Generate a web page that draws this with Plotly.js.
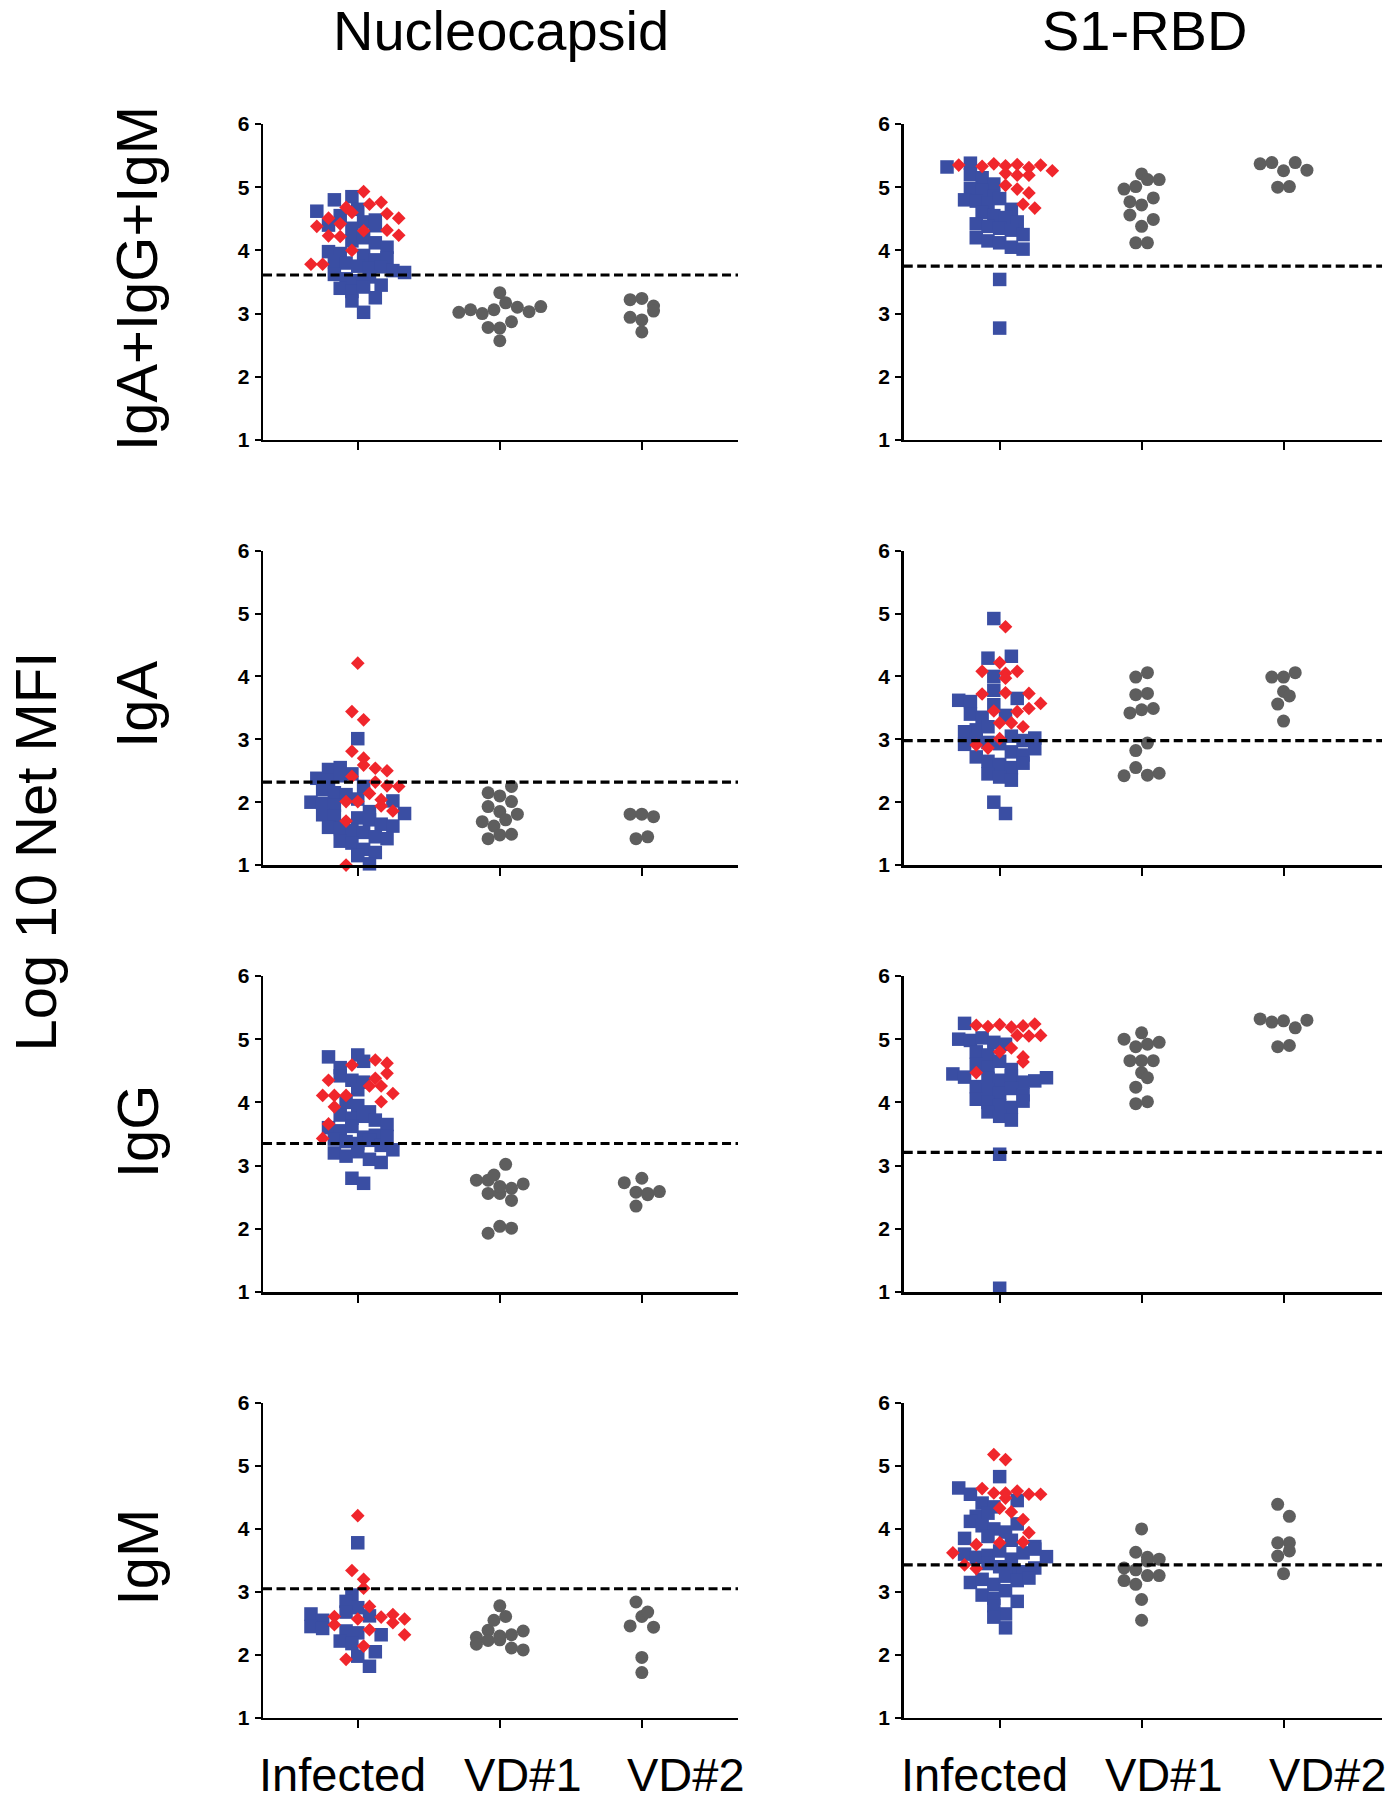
<!DOCTYPE html>
<html>
<head>
<meta charset="utf-8">
<script src="https://cdn.plot.ly/plotly-3.0.1.min.js"></script>
<style>
  html, body { margin: 0; padding: 0; background: #fff; }
  #chart { width: 1388px; height: 1800px; }
</style>
</head>
<body>
<div id="chart"></div>
<script>
// Log10 net MFI scatter dot plots: infected (blue/red) vs vaccine donors

const groups = ['Infected', 'VD#1', 'VD#2'];
const antigens = ['Nucleocapsid', 'S1-RBD'];
const isotypes = ['IgA+IgG+IgM', 'IgA', 'IgG', 'IgM'];

// Nucleocapsid, IgA+IgG+IgM
const nTotalBlue = [4.85, 4.80, 4.62, 4.55, 4.65, 4.45, 4.40, 4.35, 4.48, 4.39, 4.15, 4.20, 4.12, 4.05, 3.98, 3.95, 3.92, 3.85, 3.82, 3.80, 3.75, 3.72, 3.88, 3.74, 3.68, 3.65, 3.62, 3.55, 3.52, 3.58, 3.45, 3.40, 3.35, 3.42, 3.25, 3.20, 3.02];
const nTotalRed = [4.38, 4.68, 4.51, 4.60, 4.93, 4.73, 4.42, 4.31, 4.23, 4.22, 4.76, 4.58, 4.51, 4.32, 4.24, 4.00, 3.78, 3.78];
const nTotalVD1 = [3.02, 3.06, 3.00, 3.06, 3.17, 3.10, 3.03, 3.11, 3.33, 2.78, 2.77, 2.87, 2.57];
const nTotalVD2 = [3.22, 2.94, 3.24, 2.71, 3.12, 2.90, 3.04];
const nTotalCut = 3.61;

// S1-RBD, IgA+IgG+IgM
const sTotalBlue = [5.32, 5.38, 5.20, 5.15, 5.05, 4.98, 4.95, 4.85, 4.80, 4.78, 4.75, 4.82, 4.65, 4.60, 4.55, 4.52, 4.45, 4.42, 4.38, 4.35, 4.32, 4.25, 4.20, 4.15, 4.12, 4.05, 4.02, 3.54, 2.77];
const sTotalRed = [5.35, 5.33, 5.37, 5.34, 5.36, 5.31, 5.35, 5.26, 5.22, 5.19, 5.19, 5.03, 4.97, 4.91, 4.73, 4.67];
const sTotalVD1 = [5.21, 4.97, 4.77, 4.56, 5.01, 4.38, 4.12, 5.12, 4.72, 4.49, 4.12, 5.12, 4.83];
const sTotalVD2 = [5.37, 5.39, 5.26, 5.39, 5.27, 5.00, 5.01];
const sTotalCut = 3.75;

// Nucleocapsid, IgA
const nIgABlue = [3.01, 2.52, 2.55, 2.45, 2.38, 2.35, 2.42, 2.20, 2.15, 2.25, 2.12, 2.05, 2.00, 1.98, 1.95, 2.02, 1.85, 1.80, 1.78, 1.75, 1.82, 1.72, 1.65, 1.60, 1.58, 1.55, 1.62, 1.52, 1.45, 1.42, 1.38, 1.35, 1.25, 1.20, 1.15, 1.02];
const nIgARed = [4.21, 3.44, 3.31, 2.81, 2.70, 2.59, 2.54, 2.50, 2.41, 2.32, 2.26, 2.25, 2.14, 2.04, 2.01, 2.01, 1.94, 1.86, 1.70, 1.00];
const nIgAVD1 = [2.15, 1.93, 1.69, 1.42, 2.10, 1.85, 1.62, 2.01, 1.72, 1.48, 2.25, 1.81, 1.49];
const nIgAVD2 = [1.81, 1.81, 1.77, 1.42, 1.45];
const nIgACut = 2.32;

// S1-RBD, IgA
const sIgABlue = [4.92, 4.29, 4.32, 4.00, 3.78, 3.62, 3.60, 3.55, 3.65, 3.40, 3.35, 3.38, 3.15, 3.20, 3.12, 3.00, 2.95, 2.92, 3.05, 2.98, 2.93, 3.02, 2.80, 2.75, 2.72, 2.85, 2.65, 2.60, 2.55, 2.62, 2.45, 2.40, 2.35, 2.00, 1.82];
const sIgARed = [4.79, 4.22, 4.08, 4.05, 4.08, 3.97, 3.72, 3.74, 3.73, 3.57, 3.45, 3.44, 3.49, 3.26, 3.26, 3.20, 3.01, 2.91, 2.86];
const sIgAVD1 = [2.42, 3.99, 3.71, 3.42, 2.82, 2.55, 4.06, 3.73, 3.47, 2.94, 2.43, 3.49, 2.46];
const sIgAVD2 = [3.99, 3.76, 3.99, 3.56, 3.29, 4.06, 3.69];
const sIgACut = 2.98;

// Nucleocapsid, IgG
const nIgGBlue = [4.75, 4.72, 4.55, 4.65, 4.42, 4.35, 4.32, 4.20, 4.00, 3.95, 3.85, 3.80, 3.75, 3.78, 3.72, 3.65, 3.60, 3.55, 3.62, 3.45, 3.42, 3.38, 3.35, 3.48, 3.40, 3.32, 3.46, 3.25, 3.20, 3.15, 3.22, 3.10, 3.05, 2.80, 2.72];
const nIgGRed = [3.43, 4.35, 4.59, 4.11, 4.11, 4.11, 3.93, 3.66, 4.67, 4.62, 4.26, 4.38, 4.26, 4.14, 4.01, 4.46];
const nIgGVD1 = [2.77, 2.77, 2.56, 2.85, 2.56, 3.02, 2.67, 2.45, 2.64, 2.71, 1.93, 2.04, 2.01];
const nIgGVD2 = [2.73, 2.80, 2.58, 2.36, 2.56, 2.54, 2.59];
const nIgGCut = 3.35;

// S1-RBD, IgG
const sIgGBlue = [5.25, 5.00, 4.98, 5.02, 4.95, 4.92, 4.80, 4.75, 4.60, 4.55, 4.65, 4.52, 4.45, 4.40, 4.38, 4.35, 4.42, 4.32, 4.34, 4.39, 4.25, 4.20, 4.15, 4.22, 4.12, 4.05, 4.00, 3.95, 3.92, 4.02, 3.85, 3.78, 3.72, 3.18, 1.06];
const sIgGRed = [5.22, 5.20, 5.23, 5.19, 5.21, 5.24, 5.06, 5.05, 5.06, 4.80, 4.86, 4.64, 4.72, 4.47];
const sIgGVD1 = [5.00, 4.66, 5.10, 4.88, 4.47, 4.24, 3.98, 4.92, 4.66, 4.39, 4.01, 4.95, 4.66];
const sIgGVD2 = [5.32, 5.27, 5.29, 5.18, 5.30, 4.88, 4.90];
const sIgGCut = 3.21;

// Nucleocapsid, IgM
const nIgMBlue = [3.78, 2.95, 2.85, 2.75, 2.65, 2.55, 2.68, 2.62, 2.45, 2.42, 2.38, 2.35, 2.32, 2.22, 2.18, 2.05, 1.98, 1.82];
const nIgMRed = [4.21, 3.34, 3.20, 3.06, 2.77, 2.61, 2.57, 2.60, 2.64, 2.48, 2.57, 2.40, 2.51, 2.32, 2.14, 1.93];
const nIgMVD1 = [2.28, 2.39, 2.30, 2.17, 2.23, 2.32, 2.24, 2.38, 2.11, 2.08, 2.55, 2.61, 2.78];
const nIgMVD2 = [2.84, 2.46, 2.61, 1.96, 1.72, 2.68, 2.44];
const nIgMCut = 3.05;

// S1-RBD, IgM
const sIgMBlue = [4.83, 4.65, 4.55, 4.41, 4.35, 4.45, 4.20, 4.25, 4.12, 4.05, 4.00, 3.95, 4.08, 3.85, 3.88, 3.82, 3.72, 3.60, 3.55, 3.58, 3.65, 3.52, 3.62, 3.68, 3.56, 3.45, 3.40, 3.35, 3.32, 3.38, 3.15, 3.20, 3.12, 3.25, 3.18, 3.22, 2.95, 2.90, 3.02, 2.85, 2.78, 2.65, 2.60, 2.43];
const sIgMRed = [5.18, 5.10, 4.64, 4.57, 4.49, 4.57, 4.60, 4.55, 4.55, 4.33, 4.27, 4.15, 3.94, 3.75, 3.78, 3.79, 3.62, 3.43, 3.37];
const sIgMVD1 = [3.63, 3.38, 3.55, 3.18, 4.00, 3.35, 3.12, 2.88, 2.55, 3.49, 3.26, 3.52, 3.26];
const sIgMVD2 = [4.39, 3.78, 4.20, 3.78, 3.57, 3.29, 3.65];
const sIgMCut = 3.43;

// panel table, row by row (left = Nucleocapsid, right = S1-RBD)
const panels = [
    {blue: nTotalBlue, red: nTotalRed, vd1: nTotalVD1, vd2: nTotalVD2, cut: nTotalCut},
    {blue: sTotalBlue, red: sTotalRed, vd1: sTotalVD1, vd2: sTotalVD2, cut: sTotalCut},
    {blue: nIgABlue, red: nIgARed, vd1: nIgAVD1, vd2: nIgAVD2, cut: nIgACut},
    {blue: sIgABlue, red: sIgARed, vd1: sIgAVD1, vd2: sIgAVD2, cut: sIgACut},
    {blue: nIgGBlue, red: nIgGRed, vd1: nIgGVD1, vd2: nIgGVD2, cut: nIgGCut},
    {blue: sIgGBlue, red: sIgGRed, vd1: sIgGVD1, vd2: sIgGVD2, cut: sIgGCut},
    {blue: nIgMBlue, red: nIgMRed, vd1: nIgMVD1, vd2: nIgMVD2, cut: nIgMCut},
    {blue: sIgMBlue, red: sIgMRed, vd1: sIgMVD1, vd2: sIgMVD2, cut: sIgMCut}
];

// layout geometry
const W = 1388, H = 1800;
const colDomains = [[0.1895, 0.5317], [0.6511, 0.9957]];
const colRanges = [[-0.667, 2.677], [-0.676, 2.694]];
const rowDomains = [[0.7556, 0.9311], [0.5194, 0.6941], [0.2822, 0.4578], [0.0456, 0.2206]];
const yRange = [1, 6];

const BLUE = '#3a4ea3';
const RED = '#f0262c';
const GREY = '#5e5e5e';
const FONT = 'Liberation Sans, Arial, Helvetica, sans-serif';

// Prism-style column scatter: values are grouped into rows about one symbol tall,
// each row is spread sideways around the group centre
function scatterOffsets(values, rowH, step) {
    const order = values.map((v, i) => i).sort((a, b) => values[a] - values[b]);
    const off = new Array(values.length).fill(0);
    let row = [], start = null;
    const flush = () => {
        row.sort((a, b) => a - b);
        row.forEach((k, j) => { off[k] = (j - (row.length - 1) / 2) * step; });
        row = [];
    };
    order.forEach(i => {
        if (start === null || values[i] - start > rowH) {
            if (row.length) flush();
            start = values[i];
        }
        row.push(i);
    });
    if (row.length) flush();
    return off;
}

const traces = [];
const shapes = [];
const annotations = [];
const layout = {
    width: W, height: H,
    margin: {l: 0, r: 0, t: 0, b: 0},
    paper_bgcolor: '#fff', plot_bgcolor: 'rgba(0,0,0,0)',
    showlegend: false,
    font: {family: FONT, color: '#000'}
};

panels.forEach((p, i) => {
    const row = Math.floor(i / 2), col = i % 2;
    const n = i + 1;
    const xa = n === 1 ? 'x' : 'x' + n;
    const ya = n === 1 ? 'y' : 'y' + n;

    const xr = colRanges[col];
    const pxX = (colDomains[col][1] - colDomains[col][0]) * W / (xr[1] - xr[0]);
    const pxY = (rowDomains[row][1] - rowDomains[row][0]) * H / (yRange[1] - yRange[0]);
    const step = 11.7 / pxX;
    const rowH = 12 / pxY;

    // infected: blue and red share one column layout, interleaved
    const inf = [], kind = [];
    for (let k = 0; k < Math.max(p.blue.length, p.red.length); k++) {
        if (k < p.blue.length) { inf.push(p.blue[k]); kind.push('b'); }
        if (k < p.red.length) { inf.push(p.red[k]); kind.push('r'); }
    }
    const infOff = scatterOffsets(inf, rowH, step);
    const bx = [], by = [], rx = [], ry = [];
    inf.forEach((v, k) => {
        if (kind[k] === 'b') { bx.push(infOff[k]); by.push(v); }
        else { rx.push(infOff[k]); ry.push(v); }
    });

    const common = {type: 'scatter', mode: 'markers', xaxis: xa, yaxis: ya, cliponaxis: false, hoverinfo: 'y'};
    traces.push(Object.assign({}, common, {
        x: bx, y: by, marker: {symbol: 'square', size: 13.5, color: BLUE, line: {width: 0}}
    }));
    traces.push(Object.assign({}, common, {
        x: rx, y: ry, marker: {symbol: 'diamond', size: 10.5, color: RED, line: {width: 0}}
    }));
    [p.vd1, p.vd2].forEach((vals, g) => {
        const off = scatterOffsets(vals, rowH, step);
        traces.push(Object.assign({}, common, {
            x: vals.map((v, k) => g + 1 + off[k]), y: vals,
            marker: {symbol: 'circle', size: 13, color: GREY, line: {width: 0}}
        }));
    });

    const axKey = n === 1 ? '' : n;
    layout['xaxis' + axKey] = {
        domain: colDomains[col], range: xr, anchor: ya,
        showgrid: false, zeroline: false,
        showline: true, linecolor: '#000', linewidth: 2.5,
        ticks: 'outside', ticklen: 8, tickwidth: 2, tickcolor: '#000',
        tickvals: [0, 1, 2], ticktext: groups, showticklabels: false
    };
    layout['yaxis' + axKey] = {
        domain: rowDomains[row], range: yRange, anchor: xa,
        showgrid: false, zeroline: false,
        showline: true, linecolor: '#000', linewidth: 2.5,
        ticks: 'outside', ticklen: 6, tickwidth: 2, tickcolor: '#000',
        tickvals: [1, 2, 3, 4, 5, 6], ticklabelstandoff: 1,
        tickfont: {family: FONT, size: 21, color: '#000', weight: 'bold'}
    };

    // cut-off
    shapes.push({
        type: 'line', xref: xa + ' domain', yref: ya,
        x0: 0, x1: 1, y0: p.cut, y1: p.cut,
        line: {color: '#000', width: 3.2, dash: '9px,4.5px'}
    });

    // group names under the bottom row
    if (row === 3) {
        const shift = [-0.11, 0.16, 0.31];
        groups.forEach((g, k) => {
            annotations.push({
                text: g, xref: xa, yref: 'paper', x: k + shift[k], y: 0, yshift: -3,
                xanchor: 'center', yanchor: 'bottom', showarrow: false,
                font: {family: FONT, size: 47, color: '#000'}
            });
        });
    }
});

// column titles
antigens.forEach((a, c) => {
    annotations.push({
        text: a, xref: 'paper', yref: 'paper',
        x: [501, 1144][c] / W, y: 1, yshift: 3,
        xanchor: 'center', yanchor: 'top', showarrow: false,
        font: {family: FONT, size: 56, color: '#000'}
    });
});

// row titles
isotypes.forEach((t, r) => {
    annotations.push({
        text: t, xref: 'paper', yref: 'paper', textangle: -90,
        x: 137 / W, y: (rowDomains[r][0] + rowDomains[r][1]) / 2 + 3 / H,
        xanchor: 'center', yanchor: 'middle', showarrow: false,
        font: {family: FONT, size: 58, color: '#000'}
    });
});

annotations.push({
    text: 'Log 10 Net MFI', xref: 'paper', yref: 'paper', textangle: -90,
    x: 0, y: 1 - 852 / H,
    xanchor: 'left', yanchor: 'middle', showarrow: false,
    font: {family: FONT, size: 58, color: '#000'}
});

layout.shapes = shapes;
layout.annotations = annotations;

Plotly.newPlot('chart', traces, layout, {staticPlot: true, displayModeBar: false});
</script>
</body>
</html>
